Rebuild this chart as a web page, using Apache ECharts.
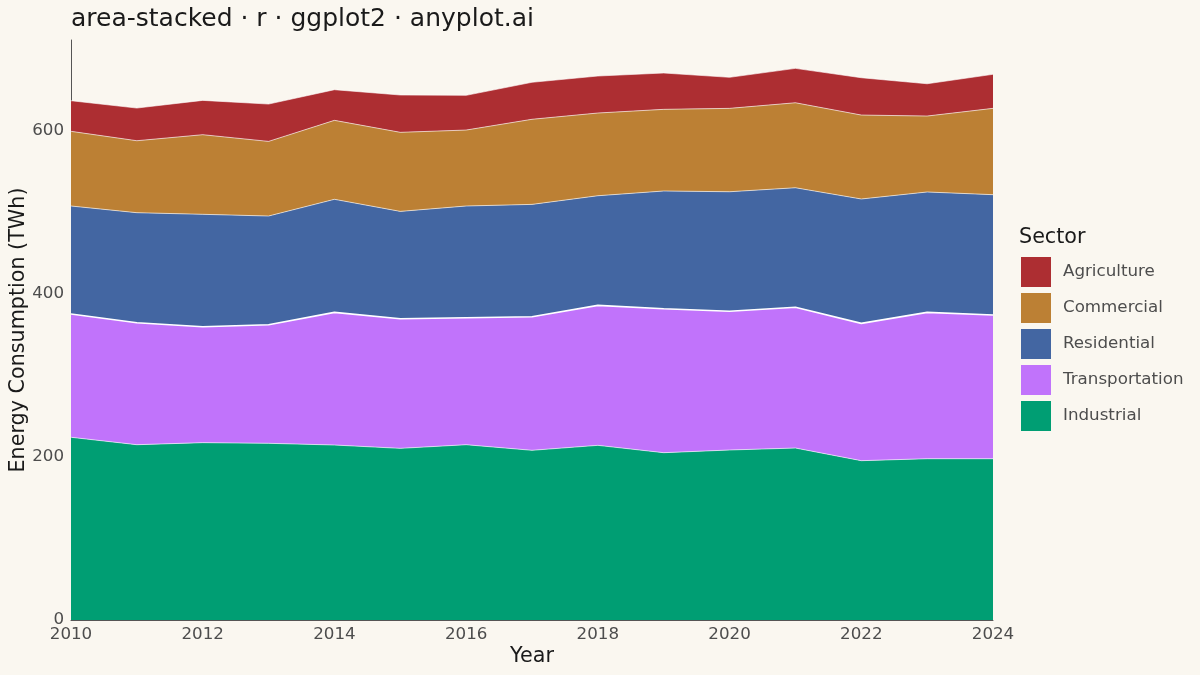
<!DOCTYPE html>
<html style="width: 100%; height: 100%">
<head>
    <meta charset="utf-8">
    <script src="https://cdn.jsdelivr.net/npm/echarts@6/dist/echarts.min.js"></script>
</head>
<body style="width: 100%; height: 100%; margin: 0; background: #FAF7F0">
<div id="container" style="width: 1200px; height: 675px"></div>

<script type="text/javascript">
    // data (TWh)
    var years = ['2010', '2011', '2012', '2013', '2014', '2015', '2016', '2017',
                 '2018', '2019', '2020', '2021', '2022', '2023', '2024'];
    var industrial     = [224.2, 215.1, 217.6, 216.8, 214.7, 210.6, 215.1, 208.2, 214.3, 205.3, 208.6, 211.0, 195.5, 197.9, 197.9];
    var transportation = [151.3, 149.7, 142.3, 145.5, 162.8, 159.1, 155.8, 164.0, 171.8, 176.7, 170.2, 172.7, 168.5, 179.6, 176.3];
    var residential    = [132.5, 135.0, 137.9, 133.4, 138.7, 131.7, 137.1, 137.8, 134.5, 144.4, 146.7, 146.7, 152.6, 147.7, 147.7];
    var commercial     = [91.6, 88.3, 97.7, 91.6, 96.9, 97.0, 93.2, 104.4, 101.5, 100.2, 102.3, 104.3, 103.0, 93.2, 105.9];
    var agriculture    = [37.6, 40.1, 42.1, 45.8, 37.6, 45.8, 42.6, 45.4, 45.4, 44.6, 38.1, 42.2, 45.8, 39.6, 41.8];
    var legendOrder = ['Agriculture', 'Commercial', 'Residential', 'Transportation', 'Industrial'];

    var font = 'DejaVu Sans';
    var dom = document.getElementById('container');
    var myChart = echarts.init(dom);

    function area(name, data, color, lineWidth, lineOpacity) {
        return {
            name: name,
            type: 'line',
            stack: 'total',
            data: data,
            symbol: 'none',
            silent: true,
            itemStyle: {color: color},
            lineStyle: {color: '#ffffff', width: lineWidth, opacity: lineOpacity},
            areaStyle: {color: color, opacity: 1}
        };
    }

    var option = {
        backgroundColor: '#FAF7F0',
        animation: false,
        textStyle: {fontFamily: font},
        title: [{
            text: 'area-stacked · r · ggplot2 · anyplot.ai',
            left: 71,
            top: 7,
            padding: 0,
            textStyle: {fontFamily: font, fontSize: 25, fontWeight: 'normal', color: '#1a1a1a'}
        }, {
            text: 'Sector',
            left: 1019,
            top: 227,
            padding: 0,
            textStyle: {fontFamily: font, fontSize: 20.7, fontWeight: 'normal', color: '#1a1a1a'}
        }],
        legend: {
            data: legendOrder,
            orient: 'vertical',
            left: 1021,
            top: 257,
            padding: 0,
            icon: 'rect',
            itemWidth: 30,
            itemHeight: 30,
            itemGap: 6,
            textStyle: {fontFamily: font, fontSize: 16.7, color: '#4d4d4d', padding: [0, 0, 0, 7]}
        },
        grid: {left: 71, right: 207, top: 40, bottom: 55, outerBoundsMode: 'none', containLabel: false},
        xAxis: {
            type: 'category',
            data: years,
            boundaryGap: false,
            name: 'Year',
            nameLocation: 'middle',
            nameGap: 26,
            nameMoveOverlap: false,
            nameTextStyle: {fontFamily: font, fontSize: 20.7, color: '#1a1a1a'},
            axisLine: {lineStyle: {color: '#555555', width: 1}},
            axisTick: {show: false},
            axisLabel: {interval: 1, fontFamily: font, fontSize: 16.7, color: '#4d4d4d', margin: 6},
            splitLine: {show: false}
        },
        yAxis: {
            type: 'value',
            min: 0,
            max: 711.7,
            interval: 200,
            name: 'Energy Consumption (TWh)',
            nameLocation: 'middle',
            nameGap: 42,
            nameMoveOverlap: false,
            nameTextStyle: {fontFamily: font, fontSize: 20.7, color: '#1a1a1a'},
            axisLine: {show: true, lineStyle: {color: '#555555', width: 1}},
            axisTick: {show: false},
            axisLabel: {fontFamily: font, fontSize: 16.7, color: '#4d4d4d', margin: 7, showMaxLabel: false},
            splitLine: {show: false}
        },
        series: [
            area('Industrial', industrial, '#009E73', 1, 0.6),
            area('Transportation', transportation, '#C173FB', 1.6, 1),
            area('Residential', residential, '#4366A2', 1, 0.6),
            area('Commercial', commercial, '#BC8034', 1, 0.6),
            area('Agriculture', agriculture, '#AD2E32', 1, 0.6)
        ]
    };
    myChart.setOption(option);
</script>
</body>
</html>
